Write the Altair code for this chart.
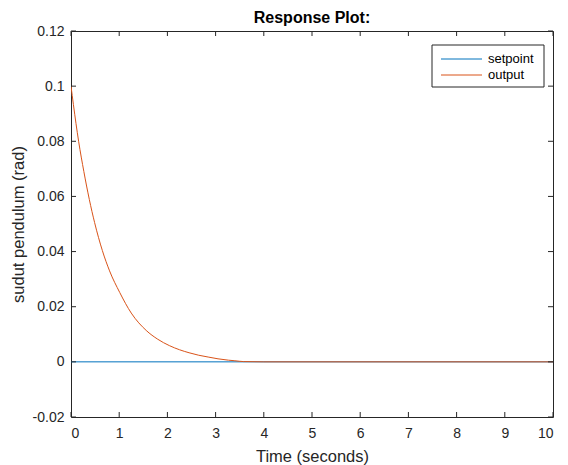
import altair as alt
import pandas as pd

# data
setpoint_t = [0, 10]
setpoint_v = [0.0, 0.0]
output_t = [0, 0.05, 0.158, 0.267, 0.38, 0.49, 0.65, 0.80, 1.01, 1.25, 1.56, 1.80, 2.04,
            2.25, 2.45, 2.65, 2.86, 3.05, 3.27, 3.40, 3.58, 4.0, 10]
output_v = [0.100, 0.0933, 0.0800, 0.0690, 0.0589, 0.0505, 0.0404, 0.0330, 0.0252, 0.0177,
            0.0114, 0.0082, 0.0059, 0.0044, 0.0033, 0.0024, 0.0017, 0.0011, 0.0006,
            0.0004, 0.0001, 0.0000, 0.0000]
x_ticks = [0, 1, 2, 3, 4, 5, 6, 7, 8, 9, 10]
y_ticks = [-0.02, 0, 0.02, 0.04, 0.06, 0.08, 0.1, 0.12]
series_names = ["setpoint", "output"]
series_colors = ["#0072BD", "#D95319"]

W, H = 482, 386
FONT = "Liberation Sans"
AX = "#262626"

sp_df = pd.DataFrame({"t": setpoint_t, "v": setpoint_v, "series": "setpoint"})
out_df = pd.DataFrame({"t": output_t, "v": output_v, "series": "output"})

xs = alt.Scale(domain=[0, 10], nice=False, zero=False)
ys = alt.Scale(domain=[-0.02, 0.12], nice=False, zero=False)
cs = alt.Scale(domain=series_names, range=series_colors)

x_enc = alt.X("t:Q", scale=xs, title="Time (seconds)",
              axis=alt.Axis(values=x_ticks, tickSize=0, domain=False, grid=False,
                            labelPadding=9, labelFontSize=14, titleFontSize=16.5,
                            titlePadding=8, labelColor=AX, titleColor=AX,
                            titleFontWeight="normal", labelFont=FONT, titleFont=FONT))
y_enc = alt.Y("v:Q", scale=ys, title="sudut pendulum (rad)",
              axis=alt.Axis(values=y_ticks, tickSize=0, domain=False, grid=False,
                            labelExpr="'' + datum.value",
                            labelPadding=7, labelFontSize=14, titleFontSize=16.5,
                            titlePadding=6, labelColor=AX, titleColor=AX,
                            titleFontWeight="normal", labelFont=FONT, titleFont=FONT))

sp_line = alt.Chart(sp_df).mark_line(strokeWidth=1, clip=True).encode(
    x=x_enc, y=y_enc, color=alt.Color("series:N", scale=cs, legend=None))
out_line = alt.Chart(out_df).mark_line(strokeWidth=1, clip=True, interpolate="monotone").encode(
    x=alt.X("t:Q", scale=xs), y=alt.Y("v:Q", scale=ys),
    color=alt.Color("series:N", scale=cs, legend=None), order=alt.Order("t:Q"))

xt = pd.DataFrame({"x": x_ticks})
yt = pd.DataFrame({"y": y_ticks})
tick_len = 5
bottom = alt.Chart(xt).mark_rule(color=AX, strokeWidth=1).encode(
    x=alt.X("x:Q", scale=xs), y=alt.value(H), y2=alt.value(H - tick_len))
top = alt.Chart(xt).mark_rule(color=AX, strokeWidth=1).encode(
    x=alt.X("x:Q", scale=xs), y=alt.value(0), y2=alt.value(tick_len))
left = alt.Chart(yt).mark_rule(color=AX, strokeWidth=1).encode(
    y=alt.Y("y:Q", scale=ys), x=alt.value(0), x2=alt.value(tick_len))
right = alt.Chart(yt).mark_rule(color=AX, strokeWidth=1).encode(
    y=alt.Y("y:Q", scale=ys), x=alt.value(W), x2=alt.value(W - tick_len))

# legend box (drawn inside the plot, top-right)
LX0, LX1, LY0, LY1 = W - 121, W - 9, 14, 56
legend_box = alt.Chart(pd.DataFrame({"k": [0]})).mark_rect(
    fill="white", stroke=AX, strokeWidth=1).encode(
    x=alt.value(LX0), x2=alt.value(LX1), y=alt.value(LY0), y2=alt.value(LY1))
legend_layers = []
for i, (name, col) in enumerate(zip(series_names, series_colors)):
    ydata = pd.DataFrame({"series": [name]})
    ry = LY0 + 14 + 16 * i
    legend_layers.append(alt.Chart(ydata).mark_rule(color=col, strokeWidth=1).encode(
        x=alt.value(LX0 + 9), x2=alt.value(LX0 + 50), y=alt.value(ry)))
    legend_layers.append(alt.Chart(ydata).mark_text(
        align="left", baseline="middle", font=FONT, fontSize=13, color="#000000").encode(
        x=alt.value(LX0 + 56), y=alt.value(ry), text="series:N"))

chart = alt.layer(sp_line, out_line, bottom, top, left, right, legend_box,
                  *legend_layers).properties(
    width=W, height=H,
    title=alt.TitleParams("Response Plot:", fontSize=16, fontWeight="bold", font=FONT,
                          color="#000000", offset=0, dy=2, anchor="middle"),
    autosize=alt.AutoSizeParams(type="none"),
    padding={"left": 63, "top": 23, "right": 7, "bottom": 50},
).configure_view(stroke=AX, strokeWidth=1)

chart.save("out.html", embed_options={"renderer": "svg", "actions": False})
